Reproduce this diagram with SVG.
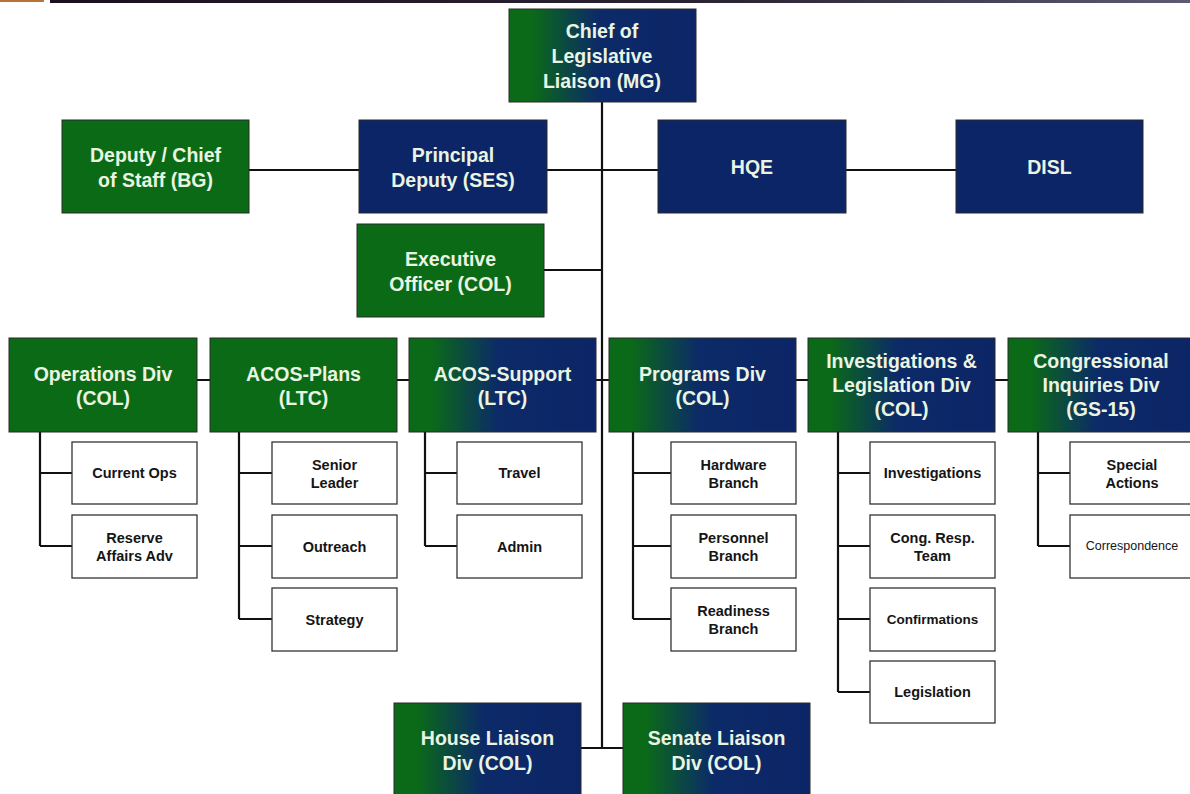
<svg xmlns="http://www.w3.org/2000/svg" width="1190" height="794" viewBox="0 0 1190 794">
  <defs>
    <linearGradient id="gn" x1="0" y1="0" x2="1" y2="0">
      <stop offset="0" stop-color="#0b6a18"/>
      <stop offset="0.12" stop-color="#0b6a18"/>
      <stop offset="0.48" stop-color="#0c2a68"/>
      <stop offset="1" stop-color="#0c2566"/>
    </linearGradient>
    <linearGradient id="bar" x1="0" y1="0" x2="1" y2="0">
      <stop offset="0" stop-color="#1a0f1e"/>
      <stop offset="0.6" stop-color="#2b2435"/>
      <stop offset="1" stop-color="#5e5a72"/>
    </linearGradient>
    <style>
      .green { fill: #0b6a16; stroke: #2a2a2a; stroke-width: 1; }
      .navy { fill: #0c2566; stroke: #2a2a2a; stroke-width: 1; }
      .grad { fill: url(#gn); stroke: #2a2a2a; stroke-width: 1; }
      .sub { fill: #ffffff; stroke: #333333; stroke-width: 1.3; }
      .t { font-family: "Liberation Sans", Arial, sans-serif; font-weight: bold; font-size: 19.5px; fill: #eaf4e2; text-anchor: middle; }
      .s { font-family: "Liberation Sans", Arial, sans-serif; font-weight: bold; font-size: 14.5px; fill: #151515; text-anchor: middle; }
      .sn { font-family: "Liberation Sans", Arial, sans-serif; font-size: 12.5px; fill: #151515; text-anchor: middle; }
      .c { stroke: #111111; stroke-width: 2.2; fill: none; }
    </style>
  </defs>
  <rect width="1190" height="794" fill="#ffffff"/>
  <!-- header rule -->
  <rect x="0" y="0" width="44" height="2" fill="#b8733a"/>
  <rect x="50" y="0" width="1140" height="3" fill="url(#bar)"/>

  <!-- connectors -->
  <g id="connectors" class="c">
    <path d="M602 102 V748"/>
    <path d="M249 170 H956"/>
    <path d="M544 270 H602"/>
    <path d="M197 380 H1008"/>
    <path d="M581 748 H623"/>
    <path d="M40 432 V546 M40 473 H72 M40 546 H72"/>
    <path d="M239 432 V619 M239 473 H272 M239 546 H272 M239 619 H272"/>
    <path d="M425 432 V546 M425 473 H457 M425 546 H457"/>
    <path d="M633 432 V619 M633 473 H671 M633 546 H671 M633 619 H671"/>
    <path d="M838 432 V692 M838 473 H870 M838 546 H870 M838 619 H870 M838 692 H870"/>
    <path d="M1038 432 V546 M1038 473 H1070 M1038 546 H1070"/>
  </g>

  <!-- top -->
  <g id="chief">
    <rect class="grad" x="509" y="9" width="187" height="93"/>
    <text class="t" x="602" y="38">Chief of</text>
    <text class="t" x="602" y="63">Legislative</text>
    <text class="t" x="602" y="88">Liaison (MG)</text>
  </g>

  <!-- second row -->
  <g id="deputy-chief-of-staff">
    <rect class="green" x="62" y="120" width="187" height="93"/>
    <text class="t" x="155.5" y="162">Deputy / Chief</text>
    <text class="t" x="155.5" y="187">of Staff (BG)</text>
  </g>
  <g id="principal-deputy">
    <rect class="navy" x="359" y="120" width="188" height="93"/>
    <text class="t" x="453" y="162">Principal</text>
    <text class="t" x="453" y="187">Deputy (SES)</text>
  </g>
  <g id="hqe">
    <rect class="navy" x="658" y="120" width="188" height="93"/>
    <text class="t" x="752" y="174">HQE</text>
  </g>
  <g id="disl">
    <rect class="navy" x="956" y="120" width="187" height="93"/>
    <text class="t" x="1049.5" y="174">DISL</text>
  </g>
  <g id="executive-officer">
    <rect class="green" x="357" y="224" width="187" height="93"/>
    <text class="t" x="450.5" y="266">Executive</text>
    <text class="t" x="450.5" y="291">Officer (COL)</text>
  </g>

  <!-- divisions -->
  <g id="operations-div">
    <rect class="green" x="9" y="338" width="188" height="94"/>
    <text class="t" x="103" y="381">Operations Div</text>
    <text class="t" x="103" y="405">(COL)</text>
  </g>
  <g id="acos-plans">
    <rect class="green" x="210" y="338" width="187" height="94"/>
    <text class="t" x="303.5" y="381">ACOS-Plans</text>
    <text class="t" x="303.5" y="405">(LTC)</text>
  </g>
  <g id="acos-support">
    <rect class="grad" x="409" y="338" width="187" height="94"/>
    <text class="t" x="502.5" y="381">ACOS-Support</text>
    <text class="t" x="502.5" y="405">(LTC)</text>
  </g>
  <g id="programs-div">
    <rect class="grad" x="609" y="338" width="187" height="94"/>
    <text class="t" x="702.5" y="381">Programs Div</text>
    <text class="t" x="702.5" y="405">(COL)</text>
  </g>
  <g id="investigations-legislation-div">
    <rect class="grad" x="808" y="338" width="187" height="94"/>
    <text class="t" x="901.5" y="368">Investigations &amp;</text>
    <text class="t" x="901.5" y="392">Legislation Div</text>
    <text class="t" x="901.5" y="416">(COL)</text>
  </g>
  <g id="congressional-inquiries-div">
    <rect class="grad" x="1008" y="338" width="188" height="94"/>
    <text class="t" x="1101" y="368">Congressional</text>
    <text class="t" x="1101" y="392">Inquiries Div</text>
    <text class="t" x="1101" y="416">(GS-15)</text>
  </g>

  <!-- branches -->
  <g id="current-ops">
    <rect class="sub" x="72" y="442" width="125" height="62"/>
    <text class="s" x="134.5" y="478">Current Ops</text>
  </g>
  <g id="reserve-affairs-adv">
    <rect class="sub" x="72" y="515" width="125" height="63"/>
    <text class="s" x="134.5" y="543">Reserve</text>
    <text class="s" x="134.5" y="561">Affairs Adv</text>
  </g>
  <g id="senior-leader">
    <rect class="sub" x="272" y="442" width="125" height="62"/>
    <text class="s" x="334.5" y="470">Senior</text>
    <text class="s" x="334.5" y="488">Leader</text>
  </g>
  <g id="outreach">
    <rect class="sub" x="272" y="515" width="125" height="63"/>
    <text class="s" x="334.5" y="552">Outreach</text>
  </g>
  <g id="strategy">
    <rect class="sub" x="272" y="588" width="125" height="63"/>
    <text class="s" x="334.5" y="625">Strategy</text>
  </g>
  <g id="travel">
    <rect class="sub" x="457" y="442" width="125" height="62"/>
    <text class="s" x="519.5" y="478">Travel</text>
  </g>
  <g id="admin">
    <rect class="sub" x="457" y="515" width="125" height="63"/>
    <text class="s" x="519.5" y="552">Admin</text>
  </g>
  <g id="hardware-branch">
    <rect class="sub" x="671" y="442" width="125" height="62"/>
    <text class="s" x="733.5" y="470">Hardware</text>
    <text class="s" x="733.5" y="488">Branch</text>
  </g>
  <g id="personnel-branch">
    <rect class="sub" x="671" y="515" width="125" height="63"/>
    <text class="s" x="733.5" y="543">Personnel</text>
    <text class="s" x="733.5" y="561">Branch</text>
  </g>
  <g id="readiness-branch">
    <rect class="sub" x="671" y="588" width="125" height="63"/>
    <text class="s" x="733.5" y="616">Readiness</text>
    <text class="s" x="733.5" y="634">Branch</text>
  </g>
  <g id="investigations">
    <rect class="sub" x="870" y="442" width="125" height="62"/>
    <text class="s" x="932.5" y="478" font-size="13.5">Investigations</text>
  </g>
  <g id="cong-resp-team">
    <rect class="sub" x="870" y="515" width="125" height="63"/>
    <text class="s" x="932.5" y="543">Cong. Resp.</text>
    <text class="s" x="932.5" y="561">Team</text>
  </g>
  <g id="confirmations">
    <rect class="sub" x="870" y="588" width="125" height="63"/>
    <text class="s" x="932.5" y="624" style="font-size:13.5px">Confirmations</text>
  </g>
  <g id="legislation">
    <rect class="sub" x="870" y="661" width="125" height="62"/>
    <text class="s" x="932.5" y="697">Legislation</text>
  </g>
  <g id="special-actions">
    <rect class="sub" x="1070" y="442" width="125" height="62"/>
    <text class="s" x="1132" y="470">Special</text>
    <text class="s" x="1132" y="488">Actions</text>
  </g>
  <g id="correspondence">
    <rect class="sub" x="1070" y="515" width="125" height="63"/>
    <text class="sn" x="1132" y="550">Correspondence</text>
  </g>

  <!-- liaison divisions -->
  <g id="house-liaison-div">
    <rect class="grad" x="394" y="703" width="187" height="96"/>
    <text class="t" x="487.5" y="745">House Liaison</text>
    <text class="t" x="487.5" y="770">Div (COL)</text>
  </g>
  <g id="senate-liaison-div">
    <rect class="grad" x="623" y="703" width="187" height="96"/>
    <text class="t" x="716.5" y="745">Senate Liaison</text>
    <text class="t" x="716.5" y="770">Div (COL)</text>
  </g>
</svg>
